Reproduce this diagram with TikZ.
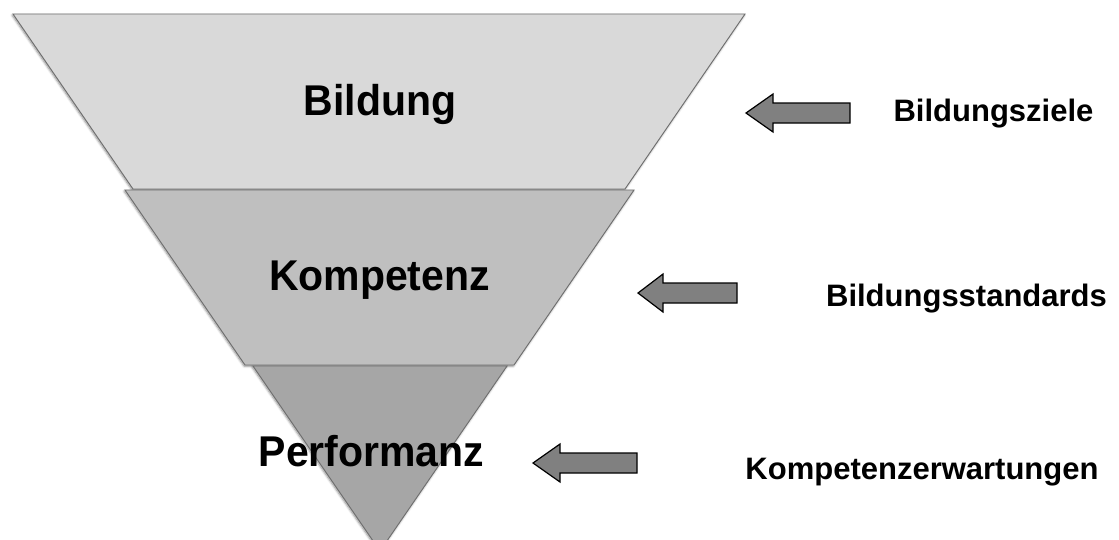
\documentclass[tikz,border=0pt]{standalone}
\usepackage{fontspec}
\setmainfont{Liberation Sans}
\usetikzlibrary{shadows.blur}

\definecolor{layerA}{HTML}{D9D9D9}
\definecolor{layerB}{HTML}{BFBFBF}
\definecolor{layerC}{HTML}{A6A6A6}
\definecolor{edgegray}{HTML}{6E6E6E}
\definecolor{arrowfill}{HTML}{808080}

\tikzset{
  layer/.style={draw=edgegray, line width=0.9pt, line join=miter,
    blur shadow={shadow xshift=-0.8pt, shadow yshift=-1.2pt,
      shadow blur radius=2.2pt, shadow blur steps=6, shadow opacity=45}},
  bigtext/.style={font=\fontsize{41}{49}\selectfont\bfseries, anchor=base, inner sep=0pt},
  sidetext/.style={font=\fontsize{31}{37}\selectfont\bfseries, anchor=base, inner sep=0pt},
  arrowbody/.style={fill=arrowfill, draw=black, line width=1.2pt, line join=miter},
  pics/blockarrow/.style n args={2}{code={
    % tip at the pic origin, body extends to the right
    \draw[arrowbody] (0,0) -- (#2,-19) -- (#2,-10) -- (#1,-10) -- (#1,10)
      -- (#2,10) -- (#2,19) -- cycle;
  }},
}
\newcommand{\tallbox}[1]{\scalebox{1}[1.05]{#1}}

\begin{document}
\begin{tikzpicture}[x=1pt, y=-1pt]
  \useasboundingbox (0,0) rectangle (1119,539);
  \begin{scope}
    \clip (0,0) rectangle (1119,539);

    % funnel layers
    \filldraw[layer, fill=layerA] (13,14) -- (745,14) -- (625,189) -- (133,189) -- cycle;
    \filldraw[layer, fill=layerB] (125,190) -- (634,190) -- (514,365) -- (245,365) -- cycle;
    \filldraw[layer, fill=layerC] (253,366) -- (507,366) -- (380,551) -- cycle;
  \end{scope}

  % layer labels
  \node[bigtext] (bildung) at (380,115) {\tallbox{Bildung}};
  \node[bigtext] (kompetenz) at (379.5,290) {\tallbox{Kompetenz}};
  \node[bigtext] (performanz) at (371.5,466) {\tallbox{Performanz}};

  % block arrows pointing at the layers
  \pic (arrowA) at (746,113) {blockarrow={104}{27}};
  \pic (arrowB) at (638,293) {blockarrow={99}{25}};
  \pic (arrowC) at (533,463) {blockarrow={104}{27}};

  % side labels
  \node[sidetext] (ziele) at (993.5,121) {Bildungsziele};
  \node[sidetext] (standards) at (966.5,306) {Bildungsstandards};
  \node[sidetext] (erwartungen) at (922,479) {Kompetenzerwartungen};
\end{tikzpicture}
\end{document}
